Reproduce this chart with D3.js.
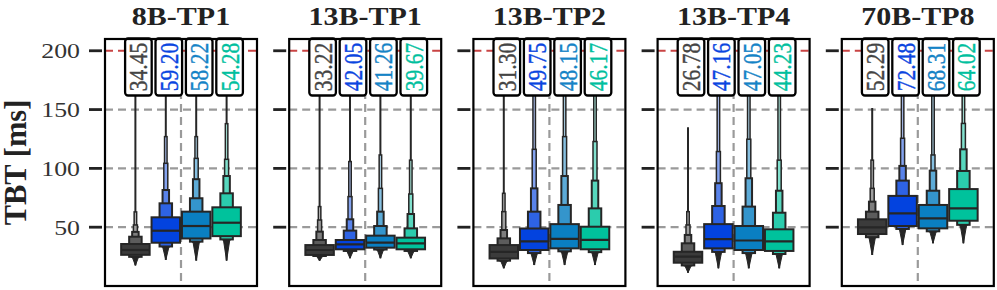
<!DOCTYPE html>
<html><head><meta charset="utf-8">
<script src="https://cdn.jsdelivr.net/npm/d3@7"></script>
<style>body{margin:0;background:#fff}svg{display:block}</style>
</head><body>
<svg id="chart" width="997" height="290"></svg>
<script>
const panelNames = ["8B-TP1","13B-TP1","13B-TP2","13B-TP4","70B-TP8"];
const seriesNames = ["S1","S2","S3","S4"];
const yTicks = [50,100,150,200];
const sloLimit = 200;
const labelValues = [
  ["34.45","59.20","58.22","54.28"],
  ["33.22","42.05","41.26","39.67"],
  ["31.30","49.75","48.15","46.17"],
  ["26.78","47.16","47.05","44.23"],
  ["52.29","72.48","68.31","64.02"]
];
const medians = [
  [30.6,47.0,51.0,53.8],
  [30.6,35.4,36.8,36.3],
  [29.0,37.9,40.1,39.3],
  [24.9,39.9,38.7,37.9],
  [49.9,61.8,57.5,66.0]
];
// upper letter values per level (innermost box first)
const upperLevels = [
  [[35.7,41.9,46.0,51.9,63.0],[58.4,70.3,81.6,104.3,127],[63.2,74.6,90.8,108.5,127],[66.9,78.8,93.5,107.7,138]],
  [[34.8,39.1,46.2,56.1,67.5],[39.1,47.1,56.7,76.0,105.8],[42.8,51.0,63.2,83.0,111.4],[41.1,49.0,61.2,78.2,107]],
  [[34.8,40.5,47.6,63.2,78.8],[48.9,63.2,83.0,116.2,165],[52.6,68.9,93.5,127,165],[50.4,66.0,89.6,122.8,165]],
  [[29.1,36.3,43.4,51.9,63.2],[52.6,68.0,87.4,114.3,165],[51.0,67.5,91.6,124.8,165],[48.2,62.3,81.0,107,165]],
  [[56.7,63.2,71.7,83.0,107],[76.6,89.6,102.1,125.6,165],[68.9,81.0,98.1,111.4,165],[82.4,97.8,116.2,138.2,165]]
];
// lower letter values per level (innermost box first)
const lowerLevels = [
  [[26.5,24.8,23.3,21.8,20.0],[36.8,33.6,31.3,29.5,27.0],[40.4,37.7,35.0,32.5,30.0],[42.4,39.6,37.0,34.5,31.0]],
  [[26.4,25.5,24.7,24.0,23.3],[31.2,29.8,28.6,27.5,26.5],[32.6,31.0,29.6,28.4,27.2],[31.2,29.8,28.6,27.5,26.5]],
  [[23.4,21.5,19.8,18.3,17.0],[30.6,28.0,25.8,23.8,22.0],[32.0,29.5,27.2,25.2,23.2],[31.2,28.8,26.5,24.5,22.5]],
  [[19.8,17.5,15.5,14.0,12.8],[32.0,29.0,26.5,24.0,21.0],[30.6,28.0,25.5,23.0,20.5],[29.8,27.2,25.0,22.8,20.5]],
  [[44.2,41.5,39.0,36.5,33.5],[51.0,48.5,46.0,43.0,40.0],[49.0,46.5,44.0,41.5,39.0],[55.5,52.0,49.0,46.0,43.0]]
];
const minValues = [
  [17.5,22.2,21.6,21.6],
  [21.5,23.6,23.6,23.6],
  [15.0,17.8,17.8,17.8],
  [11.3,15.0,15.0,15.0],
  [26.4,34.8,36.3,36.3]
];
const maxValues = [
  [200,200,200,200],
  [200,200,200,200],
  [200,200,200,200],
  [134.9,200,200,200],
  [151.4,200,200,200]
];

const baseColors = ["#3b3b3b","#0343df","#0a7fc2","#00c29c"];
const textColors = ["#444444","#0a45e0","#1583c6","#00bf9e"];
const levelWidths = [28.5,12.5,6.5,4,2.5];
const edge = "#262626";
const serif = "'Liberation Serif','Times New Roman',serif";
const SX = 1.2;

const svg = d3.select("#chart");
const pTop = 39, pBottom = 286, pw = 152, step = 184.2, left0 = 105;
const y = d3.scaleLinear().domain([0,210]).range([pBottom, pTop]);

// y label
svg.append("text")
  .attr("transform", `translate(26,${(pTop+pBottom)/2}) rotate(-90)`)
  .attr("text-anchor","middle")
  .style("font-family", serif).style("font-weight","bold").style("font-size","30.5px")
  .attr("fill","#222").text("TBT [ms]");

panelNames.forEach((pn, i) => {
  const left = left0 + i*step;
  const g = svg.append("g");
  const x = d3.scaleBand().domain(seriesNames).range([left + pw*0.1, left + pw*0.9]).padding(0);
  const cx = s => x(s) + x.bandwidth()/2;

  const clipId = "clip"+i;
  g.append("clipPath").attr("id",clipId).append("rect")
    .attr("x",left).attr("y",pTop).attr("width",pw).attr("height",pBottom-pTop);
  const plot = g.append("g").attr("clip-path",`url(#${clipId})`);

  // grid
  plot.selectAll("line.h").data(yTicks.filter(t => t !== sloLimit)).join("line")
    .attr("x1",left).attr("x2",left+pw).attr("y1",d=>y(d)).attr("y2",d=>y(d))
    .attr("stroke","#9a9a9a").attr("stroke-width",2.2).attr("stroke-dasharray","8,5");
  plot.append("line")
    .attr("x1",left+pw/2).attr("x2",left+pw/2).attr("y1",pTop).attr("y2",pBottom)
    .attr("stroke","#9a9a9a").attr("stroke-width",2.2).attr("stroke-dasharray","8,5");
  plot.append("line")
    .attr("x1",left).attr("x2",left+pw).attr("y1",y(sloLimit)).attr("y2",y(sloLimit))
    .attr("stroke","#c94444").attr("stroke-width",2.2).attr("stroke-dasharray","8,5");

  seriesNames.forEach((s, j) => {
    const c = cx(s);
    const up = upperLevels[i][j], lo = lowerLevels[i][j];
    plot.append("line").attr("x1",c).attr("x2",c)
      .attr("y1",y(minValues[i][j])).attr("y2",y(maxValues[i][j]))
      .attr("stroke",edge).attr("stroke-width",2);
    // lower tail spike
    const tailW = levelWidths[2];
    plot.append("path")
      .attr("d", `M${c-tailW/2},${y(lo[1])}L${c+tailW/2},${y(lo[1])}L${c},${y(minValues[i][j])}Z`)
      .attr("fill", edge).attr("stroke", edge).attr("stroke-width", 1);
    for (let k = up.length-1; k >= 0; k--) {
      const w = levelWidths[k];
      const col = d3.interpolateRgb(baseColors[j], "#ffffff")(k*0.17);
      plot.append("rect")
        .attr("x", c - w/2).attr("width", w)
        .attr("y", y(up[k])).attr("height", y(k >= 2 ? lo[1] : lo[k]) - y(up[k]))
        .attr("fill", col).attr("stroke", edge).attr("stroke-width", k>=3 ? 1.5 : 2);
    }
    plot.append("line")
      .attr("x1", c - levelWidths[0]/2).attr("x2", c + levelWidths[0]/2)
      .attr("y1", y(medians[i][j])).attr("y2", y(medians[i][j]))
      .attr("stroke", edge).attr("stroke-width", 2.2);
  });

  // label boxes
  seriesNames.forEach((s, j) => {
    const c = cx(s) + 3;
    g.append("rect").attr("x", c-13.3).attr("y", pTop-0.5).attr("width", 26.6).attr("height", 57)
      .attr("rx",3).attr("ry",3).attr("fill","#fff").attr("stroke","#000").attr("stroke-width",2.3);
    g.append("text")
      .attr("transform", `translate(${c},${pTop+28}) scale(${SX},1) rotate(-90)`)
      .attr("text-anchor","middle").attr("dy","0.35em")
      .style("font-family", serif).style("font-size","21.5px")
      .attr("fill", textColors[j]).attr("stroke", textColors[j]).attr("stroke-width",0.35)
      .text(labelValues[i][j]);
  });

  // frame
  g.append("rect").attr("x",left).attr("y",pTop).attr("width",pw).attr("height",pBottom-pTop)
    .attr("fill","none").attr("stroke","#000").attr("stroke-width",2.2);

  // ticks
  g.selectAll("line.tk").data(yTicks).join("line")
    .attr("x1",left-16).attr("x2",left-3).attr("y1",d=>y(d)).attr("y2",d=>y(d))
    .attr("stroke","#222").attr("stroke-width",2.8);
  if (i === 0) {
    g.selectAll("text.tl").data(yTicks).join("text")
      .attr("transform", d => `translate(${left-25},${y(d)}) scale(${SX},1)`)
      .attr("text-anchor","end").attr("dy","0.35em")
      .style("font-family", serif).style("font-size","21.5px").attr("fill","#333")
      .text(d => d);
  }

  // title
  g.append("text")
    .attr("transform", `translate(${left+pw/2},25) scale(${SX},1)`)
    .attr("text-anchor","middle")
    .style("font-family", serif).style("font-weight","bold").style("font-size","25px")
    .attr("fill","#222").text(pn);
});
</script>
</body></html>
